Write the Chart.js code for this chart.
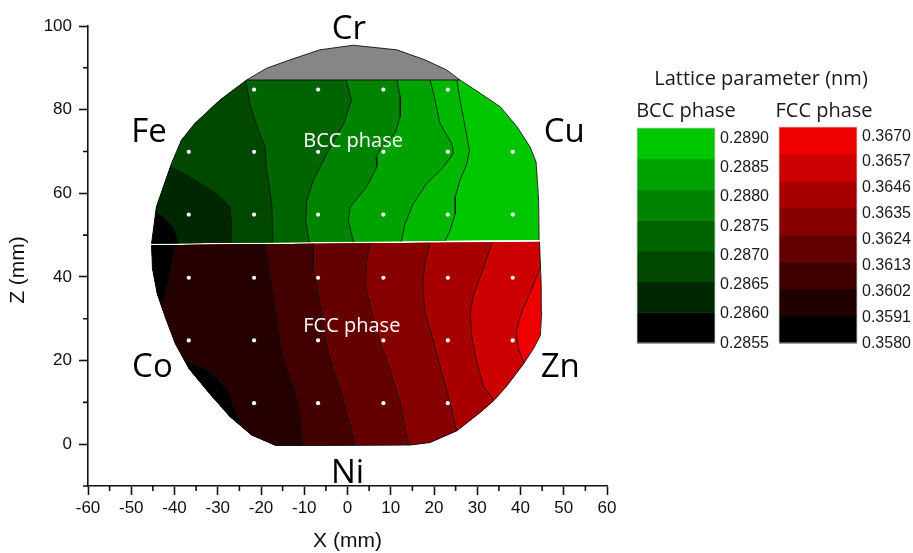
<!DOCTYPE html>
<html lang="en">
<head>
  <meta charset="UTF-8">
  <title>Lattice parameter map</title>
  <script src="https://cdn.jsdelivr.net/npm/chart.js"></script>
  <style>
    body { margin: 0; background: #fff; }
  </style>
</head>
<body>
  <canvas id="latticeChart" width="913" height="553"></canvas>

  <script>
  // axis ticks (mm)
  const xTicks = [-60, -50, -40, -30, -20, -10, 0, 10, 20, 30, 40, 50, 60];
  const xMinorTicks = [-55, -45, -35, -25, -15, -5, 5, 15, 25, 35, 45, 55];
  const zTicks = [0, 20, 40, 60, 80, 100];
  const zMinorTicks = [-10, 10, 30, 50, 70, 90];

  // measured spots [x, z]
  const samplePoints = [
    [-21.6, 84.8], [-6.8, 84.8], [8.3, 84.8], [23.2, 84.8],
    [-36.7, 69.9], [-21.6, 69.9], [-6.8, 69.9], [8.3, 69.9], [23.2, 69.9], [38.2, 69.9],
    [-36.7, 54.9], [-21.6, 54.9], [-6.8, 54.9], [8.3, 54.9], [23.2, 54.9], [38.2, 54.9],
    [-36.7, 39.8], [-21.6, 39.8], [-6.8, 39.8], [8.3, 39.8], [23.2, 39.8], [38.2, 39.8],
    [-36.7, 24.8], [-21.6, 24.8], [-6.8, 24.8], [8.3, 24.8], [23.2, 24.8], [38.2, 24.8],
    [-21.6, 9.8], [-6.8, 9.8], [8.3, 9.8], [23.2, 9.8]
  ];

  // sample outline [x, z]
  const crCap = [[-23.3, 87.1], [-18.7, 89.9], [-13.3, 91.9], [-6.4, 94.3], [1.3, 95.4],
    [11.4, 94.3], [17.9, 91.9], [22.9, 89.5], [26.0, 87.1]];
  const bccOutline = [[-45.3, 48.0], [-44.8, 51.9], [-44.2, 56.7], [-42.6, 61.5], [-40.7, 67.1],
    [-38.4, 72.7], [-35.3, 76.7], [-29.5, 82.3], [-23.3, 87.1], [26.0, 87.1], [30.7, 83.9],
    [35.3, 80.7], [39.2, 75.9], [42.2, 71.1], [43.6, 67.5], [43.9, 63.1], [44.2, 58.3], [44.3, 48.8]];
  const fccOutline = [[-45.3, 47.6], [-45.1, 42.0], [-44.0, 36.0], [-42.0, 30.0], [-39.8, 24.0],
    [-36.6, 18.0], [-31.8, 12.0], [-27.2, 6.6], [-22.2, 2.2], [-16.6, -0.3], [14.5, -0.2],
    [19.1, 0.4], [25.3, 3.2], [30.7, 7.6], [33.8, 10.4], [36.9, 14.0], [40.7, 19.2], [43.0, 22.8],
    [44.6, 26.0], [44.9, 31.6], [44.8, 38.0], [44.6, 42.8], [44.4, 48.4]];

  // BCC contour lines, right to left
  const bccLineD = [[25.3, 88.5], [25.3, 87.1], [26.0, 82.3], [27.2, 75.9], [28.2, 70.3], [27.6, 67.1],
    [26.0, 63.1], [24.9, 59.1], [24.9, 55.1], [23.7, 51.1], [22.6, 48.7], [22.4, 47]];
  const bccLineC = [[19.1, 88.5], [19.1, 87.1], [19.9, 83.9], [21.4, 76.7], [24.1, 71.9], [24.5, 69.5],
    [22.2, 66.3], [18.3, 62.3], [15.2, 57.5], [13.3, 52.7], [12.5, 48.7], [12.4, 47]];
  const bccLineB = [[11.4, 88.5], [11.4, 87.1], [12.2, 83.1], [12.2, 78.3], [11.0, 74.3], [7.9, 71.1],
    [6.6, 68.7], [6.8, 66.3], [4.4, 61.5], [0.6, 56.7], [0.2, 53.5], [1.3, 48.7], [1.4, 47]];
  const bccLineA = [[-0.3, 88.5], [-0.3, 87.1], [0.9, 82.3], [-0.8, 76.8], [-4.7, 69.6], [-7.9, 63.1],
    [-9.4, 58.3], [-9.7, 53.5], [-8.9, 48.5], [-8.8, 47]];
  const bccLineE = [[-23.6, 88.5], [-23.5, 87.1], [-22.6, 81.5], [-20.6, 75.1], [-19.1, 71.1],
    [-18.7, 65.5], [-17.5, 57.5], [-17.2, 47]];
  const bccLine2 = [[-41.8, 66.8], [-36.5, 63.9], [-30.3, 59.9], [-27.2, 56.7], [-26.8, 52.7], [-27.0, 47]];
  const bccLine1 = [[-45.5, 56.2], [-42.6, 54.3], [-40.3, 51.9], [-39.4, 49.5], [-39.2, 47]];

  // FCC contour lines, right to left
  const fccLineK = [[45.5, 44.6], [44.6, 42.3], [42.3, 36.4], [40.0, 30.8], [39.0, 26.8], [39.5, 22.8], [41.2, 18.4]];
  const fccLineJ = [[33.9, 50], [33.4, 48.3], [31.4, 42.0], [29.1, 35.6], [28.4, 31.6], [28.7, 26.0],
    [29.9, 19.6], [31.4, 14.0], [34.3, 9.8]];
  const fccLineI = [[19.5, 50], [19.1, 48.3], [17.9, 43.5], [17.4, 38.0], [17.9, 31.6], [19.9, 24.4],
    [22.2, 15.6], [24.1, 8.4], [25.4, 2.5]];
  const fccLineH = [[5.4, 50], [5.2, 48.3], [4.4, 43.5], [4.1, 38.0], [5.6, 31.6], [7.5, 24.4],
    [9.8, 18.0], [12.2, 10.0], [14.5, -2]];
  const fccLineG = [[-7.9, 50], [-7.9, 42.0], [-7.1, 38.0], [-5.7, 30.0], [-4.8, 23.6], [-3.3, 18.0],
    [-1.7, 13.2], [-0.2, 7.6], [1.3, 2.0], [2.1, -2]];
  const fccLineF = [[-19.1, 50], [-19.1, 47.7], [-18.3, 43.5], [-17.5, 38.0], [-16.7, 32.4], [-16.0, 27.6],
    [-15.2, 22.0], [-14.1, 18.0], [-12.2, 13.2], [-11.0, 7.6], [-10.2, -2]];
  const fccLineTop = [[-39.9, 50], [-39.9, 47.7], [-40.3, 45.1], [-41.1, 40.4], [-42.2, 35.6], [-43.4, 32.8], [-44.6, 31.2]];
  const fccLineCo = [[-50, 21], [-40.2, 22.2], [-38.0, 20.4], [-34.1, 18.6], [-30.3, 16.0], [-27.6, 12.8],
    [-26.4, 9.2], [-25.3, 6.4], [-24.8, 4.0]];

  const bccLines = [bccLineD, bccLineC, bccLineB, bccLineA, bccLineE, bccLine2, bccLine1];
  const fccLines = [fccLineK, fccLineJ, fccLineI, fccLineH, fccLineG, fccLineF, fccLineTop, fccLineCo];

  // colour scales (low to high)
  const bccLevels = ['0.2855', '0.2860', '0.2865', '0.2870', '0.2875', '0.2880', '0.2885', '0.2890'];
  const fccLevels = ['0.3580', '0.3591', '0.3602', '0.3613', '0.3624', '0.3635', '0.3646', '0.3657', '0.3670'];
  const bccColors = ['#000000', '#002800', '#004800', '#006400', '#008400', '#00a200', '#00c600'];
  const fccColors = ['#000000', '#200000', '#400000', '#620000', '#860000', '#a80000', '#cc0000', '#ee0000'];
  // fill of the outline, then of the region left of each line
  const bccRegionColors = ['#00c600', '#00b800', '#00a200', '#008400', '#006400', '#004800', '#002800', '#000000'];
  const fccRegionColors = ['#ee0000', '#cc0000', '#a80000', '#860000', '#640000', '#420000', '#240000', '#000000', '#000000'];

  const elementLabels = [['Cr', 0.3, 96.9], ['Fe', -45.9, 72.3], ['Cu', 50.1, 72.3],
    ['Co', -45.1, 16.0], ['Zn', 49.2, 16.0], ['Ni', 0, -9.4]];
  const phaseLabels = [['BCC phase', 1.3, 71.1], ['FCC phase', 1.0, 26.8]];

  function tracePath(chart, pts) {
    const ctx = chart.ctx, xs = chart.scales.x, ys = chart.scales.y;
    ctx.beginPath();
    pts.forEach(([x, z], i) => {
      const px = xs.getPixelForValue(x), py = ys.getPixelForValue(z);
      if (i === 0) ctx.moveTo(px, py); else ctx.lineTo(px, py);
    });
    ctx.closePath();
  }

  // polygon covering everything left of a contour line
  function leftOf(line) {
    const first = line[0], last = line[line.length - 1];
    return line.concat([[last[0], -20], [-70, -20], [-70, 120], [first[0], 120]]);
  }

  const contourFill = {
    id: 'contourFill',
    beforeDatasetsDraw(chart) {
      const ctx = chart.ctx;
      ctx.save();
      tracePath(chart, crCap);
      ctx.fillStyle = '#868686';
      ctx.fill();

      [[bccOutline, bccLines, bccRegionColors], [fccOutline, fccLines, fccRegionColors]].forEach(([outline, lines, colors]) => {
        ctx.save();
        tracePath(chart, outline);
        ctx.clip();
        ctx.fillStyle = colors[0];
        ctx.fill();
        lines.forEach((line, i) => {
          tracePath(chart, leftOf(line));
          ctx.fillStyle = colors[i + 1];
          ctx.fill();
        });
        ctx.restore();
      });
      ctx.restore();
    },
    beforeDatasetDraw(chart, args) {
      const shape = chart.data.datasets[args.index].clipShape;
      if (!shape) return;
      chart.ctx.save();
      tracePath(chart, shape);
      chart.ctx.clip();
    },
    afterDatasetDraw(chart, args) {
      if (chart.data.datasets[args.index].clipShape) chart.ctx.restore();
    }
  };

  const annotations = {
    id: 'annotations',
    afterDraw(chart) {
      const ctx = chart.ctx, xs = chart.scales.x, ys = chart.scales.y;
      const area = chart.chartArea;
      ctx.save();

      // minor ticks
      ctx.strokeStyle = '#111';
      ctx.lineWidth = 1.6;
      ctx.beginPath();
      xMinorTicks.forEach(v => {
        const px = xs.getPixelForValue(v);
        ctx.moveTo(px, area.bottom); ctx.lineTo(px, area.bottom + 5);
      });
      zMinorTicks.forEach(v => {
        const py = ys.getPixelForValue(v);
        ctx.moveTo(area.left, py); ctx.lineTo(area.left - 5, py);
      });
      ctx.stroke();

      // element and phase labels
      ctx.textAlign = 'center';
      ctx.textBaseline = 'alphabetic';
      ctx.fillStyle = '#000';
      ctx.font = '33px "Open Sans"';
      elementLabels.forEach(([t, x, z]) => ctx.fillText(t, xs.getPixelForValue(x), ys.getPixelForValue(z)));
      ctx.fillStyle = '#fff';
      ctx.font = '20px "Open Sans"';
      phaseLabels.forEach(([t, x, z]) => ctx.fillText(t, xs.getPixelForValue(x), ys.getPixelForValue(z)));

      // axis titles
      ctx.fillStyle = '#111';
      ctx.font = '21px "Liberation Sans", Arial';
      ctx.fillText('X (mm)', (area.left + area.right) / 2, 547);
      ctx.save();
      ctx.translate(24, 270);
      ctx.rotate(-Math.PI / 2);
      ctx.fillText('Z (mm)', 0, 0);
      ctx.restore();

      // colour bars
      ctx.fillStyle = '#1a1a1a';
      ctx.font = '20px "Open Sans"';
      ctx.fillText('Lattice parameter (nm)', 761, 85);
      ctx.fillText('BCC phase', 686, 117);
      ctx.fillText('FCC phase', 824, 117);

      const bars = [
        { colors: bccColors, levels: bccLevels, left: 637, right: 715, top: 128, labelTop: 138.2 },
        { colors: fccColors, levels: fccLevels, left: 779, right: 857, top: 127, labelTop: 136.1 }
      ];
      const bottom = 343;
      ctx.textAlign = 'left';
      ctx.textBaseline = 'middle';
      ctx.font = '16px "Liberation Sans", Arial';
      bars.forEach(b => {
        const h = (bottom - b.top) / b.colors.length;
        b.colors.forEach((c, i) => {
          ctx.fillStyle = c;
          ctx.fillRect(b.left, bottom - (i + 1) * h, b.right - b.left, h + 0.5);
        });
        ctx.strokeStyle = '#d0d0d0';
        ctx.lineWidth = 0.8;
        ctx.strokeRect(b.left, b.top, b.right - b.left, bottom - b.top);
        const step = (bottom + 0.3 - b.labelTop) / (b.levels.length - 1);
        ctx.fillStyle = '#1a1a1a';
        b.levels.forEach((t, i) => ctx.fillText(t, b.right + 5, bottom + 0.3 - i * step));
      });
      ctx.restore();
    }
  };

  function lineSet(pts, clipShape, width) {
    return {
      data: pts.map(([x, z]) => ({ x, y: z })),
      showLine: true,
      pointRadius: 0,
      borderColor: '#111',
      borderWidth: width,
      clipShape: clipShape
    };
  }

  const datasets = [{
    data: samplePoints.map(([x, z]) => ({ x, y: z })),
    pointRadius: 2.1,
    pointBackgroundColor: '#fff',
    pointBorderWidth: 0,
    showLine: false
  }];
  datasets.push(lineSet(bccOutline, null, 0.9));
  datasets.push(lineSet(fccOutline, null, 0.9));
  datasets.push(lineSet(crCap, null, 0.9));
  bccLines.forEach(l => datasets.push(lineSet(l, bccOutline, 0.8)));
  fccLines.forEach(l => datasets.push(lineSet(l, fccOutline, 0.8)));

  const ctx = document.getElementById('latticeChart').getContext('2d');
  new Chart(ctx, {
    type: 'scatter',
    data: { datasets: datasets },
    options: {
      responsive: false,
      animation: false,
      events: [],
      layout: { padding: { left: 0, top: 26, right: 306, bottom: 0 } },
      plugins: { legend: { display: false }, tooltip: { enabled: false } },
      scales: {
        x: {
          type: 'linear', min: -60, max: 60,
          afterBuildTicks: s => { s.ticks = xTicks.map(v => ({ value: v })); },
          afterFit: s => { s.height = 67; },
          border: { display: true, color: '#111', width: 1.6 },
          grid: { display: true, drawOnChartArea: false, drawTicks: true, tickLength: 9, color: '#111', tickWidth: 1.6 },
          ticks: { color: '#111', font: { family: '"Liberation Sans", Arial', size: 17 }, padding: 3, maxRotation: 0, autoSkip: false }
        },
        y: {
          type: 'linear', min: -10, max: 100,
          afterBuildTicks: s => { s.ticks = zTicks.map(v => ({ value: v })); },
          afterFit: s => { s.width = 88; },
          border: { display: true, color: '#111', width: 1.6 },
          grid: { display: true, drawOnChartArea: false, drawTicks: true, tickLength: 9, color: '#111', tickWidth: 1.6 },
          ticks: { color: '#111', font: { family: '"Liberation Sans", Arial', size: 17 }, padding: 7, autoSkip: false }
        }
      }
    },
    plugins: [contourFill, annotations]
  });
  </script>
</body>
</html>
